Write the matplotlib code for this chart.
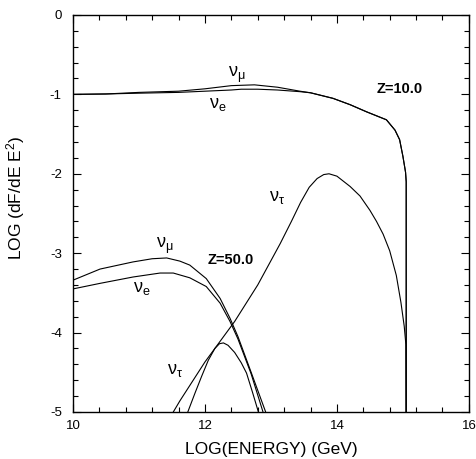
import matplotlib
matplotlib.use("Agg")
import matplotlib.pyplot as plt
from matplotlib.ticker import MultipleLocator

plt.rcParams['font.family'] = ['Liberation Sans', 'DejaVu Sans']
plt.rcParams['axes.unicode_minus'] = False
plt.rcParams['mathtext.fontset'] = 'custom'
plt.rcParams['mathtext.rm'] = 'Liberation Sans'
plt.rcParams['mathtext.it'] = 'Liberation Sans:italic'

# Z=10.0 curves
z10_mu_x = [10.0, 10.5, 11.0, 11.6, 12.0, 12.4, 12.75, 13.1, 13.44, 13.6, 13.94, 14.2, 14.45, 14.6, 14.75, 14.88, 14.95, 15.0, 15.04, 15.05, 15.05]
z10_mu_y = [-1.0, -0.995, -0.975, -0.96, -0.93, -0.89, -0.88, -0.91, -0.96, -0.98, -1.05, -1.13, -1.22, -1.27, -1.32, -1.45, -1.57, -1.78, -1.98, -2.1, -5.5]
z10_e_x = [10.0, 10.5, 11.0, 11.6, 12.0, 12.4, 12.55, 12.8, 13.1, 13.44, 13.6, 13.94, 14.2, 14.45, 14.6, 14.75, 14.88, 14.95, 15.0, 15.04, 15.05, 15.05]
z10_e_y = [-1.0, -0.995, -0.985, -0.975, -0.96, -0.945, -0.935, -0.935, -0.945, -0.966, -0.98, -1.05, -1.13, -1.22, -1.27, -1.32, -1.45, -1.57, -1.78, -1.98, -2.1, -5.5]
z10_tau_x = [11.36, 11.52, 11.62, 12.0, 12.45, 12.8, 13.14, 13.31, 13.45, 13.58, 13.7, 13.8, 13.88, 14.0, 14.2, 14.35, 14.5, 14.6, 14.7, 14.8, 14.9, 14.97, 15.02, 15.045, 15.05]
z10_tau_y = [-5.2, -5.0, -4.86, -4.37, -3.86, -3.4, -2.88, -2.6, -2.36, -2.17, -2.06, -2.01, -2.0, -2.03, -2.16, -2.28, -2.46, -2.6, -2.76, -2.97, -3.28, -3.62, -3.92, -4.15, -5.5]

# Z=50.0 curves
z50_mu_x = [10.0, 10.41, 10.91, 11.2, 11.42, 11.62, 11.77, 12.02, 12.23, 12.38, 12.5, 12.7, 12.92, 12.97]
z50_mu_y = [-3.34, -3.2, -3.11, -3.07, -3.06, -3.1, -3.15, -3.32, -3.57, -3.82, -4.05, -4.5, -5.0, -5.15]
z50_e_x = [10.0, 10.41, 10.91, 11.32, 11.52, 11.77, 12.02, 12.23, 12.38, 12.5, 12.7, 12.88, 12.93]
z50_e_y = [-3.45, -3.38, -3.3, -3.25, -3.25, -3.31, -3.42, -3.63, -3.86, -4.08, -4.52, -5.0, -5.15]
z50_tau_x = [11.68, 11.74, 11.85, 11.95, 12.05, 12.15, 12.22, 12.28, 12.35, 12.45, 12.55, 12.63, 12.72, 12.81, 12.85]
z50_tau_y = [-5.15, -5.0, -4.76, -4.55, -4.35, -4.2, -4.14, -4.13, -4.16, -4.25, -4.38, -4.51, -4.75, -5.0, -5.1]

fig = plt.figure(figsize=(4.77, 4.59), dpi=100)
ax = fig.add_axes([0.153, 0.1024, 0.83, 0.865])

lw = 0.8
for xs, ys in [(z10_mu_x, z10_mu_y), (z10_e_x, z10_e_y), (z10_tau_x, z10_tau_y),
               (z50_mu_x, z50_mu_y), (z50_e_x, z50_e_y), (z50_tau_x, z50_tau_y)]:
    ax.plot(xs, ys, color='black', linewidth=lw)

# curve labels
fs_nu = 13
ax.text(12.48, -0.76, r'$\mathrm{\nu_\mu}$', fontsize=fs_nu, ha='center', va='center')
ax.text(12.2, -1.13, r'$\mathrm{\nu_e}$', fontsize=fs_nu, ha='center', va='center')
ax.text(13.09, -2.3, r'$\mathrm{\nu_\tau}$', fontsize=fs_nu, ha='center', va='center')
ax.text(11.39, -2.91, r'$\mathrm{\nu_\mu}$', fontsize=fs_nu, ha='center', va='center')
ax.text(11.05, -3.45, r'$\mathrm{\nu_e}$', fontsize=fs_nu, ha='center', va='center')
ax.text(11.55, -4.48, r'$\mathrm{\nu_\tau}$', fontsize=fs_nu, ha='center', va='center')
ax.text(14.95, -0.93, 'Z=10.0', fontsize=10.5, fontweight='bold', ha='center', va='center')
ax.text(12.39, -3.09, 'Z=50.0', fontsize=10.5, fontweight='bold', ha='center', va='center')

ax.set_xlim(10, 16)
ax.set_ylim(-5, 0)
ax.xaxis.set_major_locator(MultipleLocator(2))
ax.xaxis.set_minor_locator(MultipleLocator(0.4))
ax.yaxis.set_major_locator(MultipleLocator(1))
ax.yaxis.set_minor_locator(MultipleLocator(0.2))
ax.tick_params(which='both', direction='in', top=True, right=True, labelsize=9.5)
ax.tick_params(which='major', length=6, width=0.8)
ax.tick_params(which='minor', length=3.5, width=0.8)
ax.tick_params(axis='x', pad=6)
ax.tick_params(axis='y', pad=8)
for s in ax.spines.values():
    s.set_linewidth(1.0)

ax.set_xlabel('LOG(ENERGY) (GeV)', fontsize=12.5, labelpad=7)
ax.set_ylabel(r'LOG (dF/dE E$^2$)', fontsize=12.5, labelpad=10)
ax.yaxis.set_label_coords(-0.115, 0.54)

fig.savefig('out.png', dpi=100)
